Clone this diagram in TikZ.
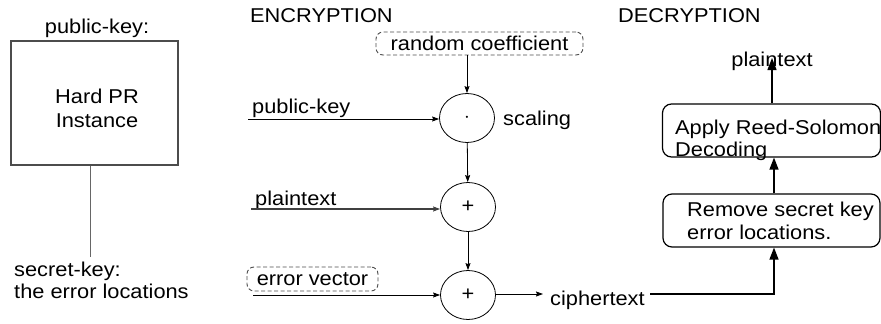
\documentclass[tikz,border=0pt]{standalone}
\usepackage{fontspec}
\setmainfont{Liberation Sans}[FakeStretch=1.09]
\usetikzlibrary{arrows.meta,shapes.geometric}

\tikzset{
  txt/.style={inner sep=0pt, font=\fontsize{20}{23}\selectfont},
  opnode/.style={ellipse, draw, line width=0.8pt, minimum width=55pt, minimum height=49pt, inner sep=0pt, font=\fontsize{20}{23}\selectfont},
  thinarrow/.style={-{Stealth[length=7pt,width=5pt,inset=1pt]}, line width=0.8pt},
  bigarrow/.style={-{Triangle[length=12pt,width=9pt]}, line width=1.3pt},
  dashbox/.style={draw=black!70, dashed, dash pattern=on 4pt off 2.5pt, line width=0.9pt, rounded corners=7pt, inner sep=0pt, font=\fontsize{20}{23}\selectfont},
  procbox/.style={draw, line width=1.2pt, rounded corners=9pt, inner sep=0pt},
}

\begin{document}
\begin{tikzpicture}[x=1pt,y=-1pt]
\useasboundingbox (0,0) rectangle (881,324);

% key generation
\node[txt, anchor=base] (pk) at (97,34) {public-key:};
\node[draw=black!70, line width=1.1pt, minimum width=167pt, minimum height=124pt, inner sep=0pt] (pr) at (94.5,103) {};
\node[txt, anchor=base] (pr1) at (97,103) {Hard PR};
\node[txt, anchor=base] (pr2) at (97,127) {Instance};
\node[txt, anchor=base west] (sk1) at (14,276) {secret-key:};
\node[txt, anchor=base west] (sk2) at (14,298) {the error locations};
\coordinate (skt) at (90,257);
\draw[black!60, line width=1pt] (pr.south -| skt) -- (skt);

% encryption
\node[txt, anchor=base west] (enc) at (250,23) {ENCRYPTION};
\node[dashbox, minimum width=207pt, minimum height=23pt] (rc) at (479.5,43.5) {random coefficient};
\node[opnode] (m1) at (467,118) {$\cdot$};
\node[opnode] (a1) at (468,207) {+};
\node[opnode] (a2) at (468,295) {+};
\node[txt, anchor=base west] (sc) at (503,125) {scaling};

\node[txt, anchor=base west] (pkl) at (252,113) {public-key};
\coordinate (pks) at (248,119);
\draw[thinarrow] (pks) -- (m1.west |- pks);

\node[txt, anchor=base west] (ptl) at (255,205) {plaintext};
\coordinate (pts) at (251,209);
\draw[thinarrow, black!75, line width=1.1pt] (pts) -- (a1.west |- pts);

\node[dashbox, minimum width=131pt, minimum height=24pt] (ev) at (312.5,279) {error vector};
\coordinate (evs) at (253,295);
\draw[thinarrow] (evs) -- (a2.west |- evs);

\draw[thinarrow] (rc.south -| m1) -- (m1.north);
\draw[thinarrow] (m1) -- (a1);
\draw[thinarrow] (a1) -- (a2);

\node[txt, anchor=base west] (ct) at (550,305) {ciphertext};
\coordinate (ctin) at (543,294);
\draw[thinarrow] (a2.east |- ctin) -- (ctin);

% decryption
\node[txt, anchor=base west] (dec) at (618,22) {DECRYPTION};
\node[procbox, minimum width=217pt, minimum height=53pt] (rm) at (771.5,220.5) {};
\node[txt, anchor=base west] (rm1) at (687,216) {Remove secret key};
\node[txt, anchor=base west] (rm2) at (687,239) {error locations.};
\node[procbox, minimum width=218pt, minimum height=53pt] (rs) at (771.5,130.5) {};
\node[txt, anchor=base west] (rs1) at (675,134) {Apply Reed-Solomon};
\node[txt, anchor=base west] (rs2) at (675,156) {Decoding};
\node[txt, anchor=base] (pt) at (772,66) {plaintext};

\coordinate (ctout) at (650,294);
\coordinate (cr) at (774,294);
\coordinate (ptin) at (772,58);
\draw[bigarrow] (ctout) -- (cr) -- (rm.south -| cr);
\draw[bigarrow] (rm.north -| cr) -- (rs.south -| cr);
\draw[bigarrow] (rs.north -| ptin) -- (ptin);
\end{tikzpicture}
\end{document}
